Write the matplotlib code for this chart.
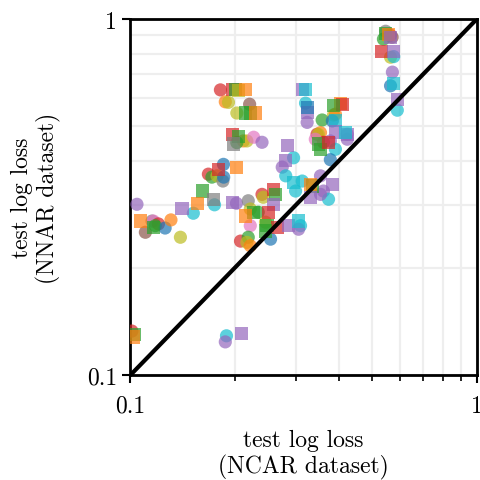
import matplotlib
matplotlib.use("Agg")
import matplotlib.pyplot as plt
import numpy as np
from matplotlib.ticker import FixedLocator, FixedFormatter, LogLocator, NullFormatter

# Computer Modern roman ships with matplotlib
plt.rcParams["font.family"] = "cmr10"
plt.rcParams["axes.formatter.use_mathtext"] = True

# tab10 colour index for each point
# circles: (NCAR loss, NNAR loss, colour)
circle_x = [0.564, 0.570, 0.546, 0.564, 0.576, 0.571, 0.564, 0.590, 0.538,
            0.182, 0.188, 0.192, 0.221, 0.203, 0.212, 0.217, 0.227, 0.240, 0.203,
            0.3205, 0.324, 0.358, 0.386, 0.391, 0.383, 0.423, 0.346, 0.354, 0.349,
            0.361, 0.342, 0.378, 0.391, 0.378, 0.423, 0.296, 0.2745, 0.281, 0.354,
            0.361, 0.3135, 0.300, 0.3735, 0.354,
            0.1857, 0.168, 0.172, 0.178, 0.185, 0.186,
            0.1045, 0.1105, 0.1155, 0.1166, 0.1205, 0.118, 0.126, 0.131, 0.1395,
            0.152, 0.175, 0.2025,
            0.219, 0.240, 0.242, 0.222, 0.234, 0.222, 0.2456, 0.310, 0.306, 0.254,
            0.208, 0.219, 0.217, 0.222,
            0.1895, 0.188, 0.101]
circle_y = [0.902, 0.890, 0.925, 0.782, 0.785, 0.710, 0.650, 0.555, 0.879,
            0.633, 0.586, 0.584, 0.577, 0.545, 0.455, 0.455, 0.466, 0.451, 0.450,
            0.581, 0.513, 0.521, 0.538, 0.541, 0.518, 0.460, 0.475, 0.480, 0.475,
            0.451, 0.460, 0.455, 0.431, 0.403, 0.475, 0.408, 0.384, 0.363, 0.363,
            0.329, 0.351, 0.329, 0.312, 0.322,
            0.391, 0.367, 0.360, 0.363, 0.351, 0.360,
            0.302, 0.252, 0.271, 0.271, 0.266, 0.263, 0.259, 0.273, 0.244,
            0.285, 0.301, 0.304,
            0.309, 0.322, 0.316, 0.293, 0.287, 0.263, 0.269, 0.263, 0.257, 0.241,
            0.238, 0.244, 0.236, 0.231,
            0.129, 0.124, 0.133]
circle_c = [3, 5, 7, 8, 9, 4, 0, 9, 2,
            3, 1, 8, 5, 8, 1, 8, 6, 4, 2,
            9, 4, 2, 8, 1, 0, 4, 3, 1, 8,
            3, 6, 4, 9, 0, 4, 9, 4, 9, 4,
            4, 9, 9, 9, 4,
            0, 3, 2, 8, 7, 0,
            4, 5, 7, 6, 3, 2, 0, 1, 8,
            9, 9, 4,
            7, 3, 8, 8, 2, 6, 8, 9, 4, 0,
            3, 2, 8, 1,
            9, 4, 3]

square_x = [0.546, 0.557, 0.564, 0.531, 0.576, 0.576, 0.590,
            0.197, 0.201, 0.205, 0.215, 0.215, 0.222, 0.230, 0.197, 0.205, 0.1985,
            0.203, 0.180, 0.162,
            0.3135, 0.3205, 0.324, 0.324, 0.404, 0.409, 0.386, 0.391, 0.391, 0.423,
            0.418, 0.349, 0.354, 0.3735, 0.284, 0.281, 0.296, 0.335, 0.331, 0.383,
            0.331,
            0.107, 0.1166, 0.141, 0.156, 0.1734, 0.197,
            0.259, 0.2625, 0.259, 0.227, 0.215, 0.2505, 0.248, 0.2655, 0.286, 0.306,
            0.2456,
            0.103, 0.102, 0.209]
square_y = [0.913, 0.908, 0.890, 0.813, 0.813, 0.661, 0.596,
            0.633, 0.633, 0.632, 0.633, 0.545, 0.545, 0.545, 0.475, 0.469, 0.446,
            0.383, 0.379, 0.329,
            0.636, 0.636, 0.547, 0.566, 0.581, 0.577, 0.571, 0.518, 0.482, 0.475,
            0.480, 0.446, 0.431, 0.451, 0.441, 0.400, 0.348, 0.340, 0.344, 0.344,
            0.316,
            0.271, 0.260, 0.294, 0.304, 0.312, 0.306,
            0.333, 0.322, 0.302, 0.287, 0.280, 0.287, 0.263, 0.260, 0.263, 0.271,
            0.254,
            0.130, 0.128, 0.131]
square_c = [2, 1, 4, 3, 4, 9, 4,
            3, 2, 8, 1, 2, 2, 1, 3, 2, 7,
            1, 3, 2,
            4, 9, 4, 0, 1, 3, 2, 9, 4, 4,
            9, 2, 2, 3, 4, 4, 9, 2, 1, 4,
            4,
            1, 2, 4, 1, 7, 4,
            3, 2, 4, 2, 1, 3, 2, 3, 4, 9,
            2,
            2, 1, 4]

tick_labels = ["0.1", "1"]

palette = plt.get_cmap("tab10").colors

fig = plt.figure(figsize=(4.81, 4.81), dpi=100)
ax = fig.add_axes([0.271, 0.218, 0.72, 0.740])

ax.scatter(circle_x, circle_y, s=90, marker="o", c=[palette[i] for i in circle_c],
           alpha=0.7, linewidths=0, zorder=3)
ax.scatter(square_x, square_y, s=90, marker="s", c=[palette[i] for i in square_c],
           alpha=0.7, linewidths=0, zorder=3)
ax.plot([0.1, 1], [0.1, 1], color="black", lw=3, zorder=4)

ax.set_xscale("log")
ax.set_yscale("log")
ax.set_xlim(0.1, 1)
ax.set_ylim(0.1, 1)

for axis in (ax.xaxis, ax.yaxis):
    axis.set_major_locator(FixedLocator([0.1, 1]))
    axis.set_major_formatter(FixedFormatter(tick_labels))
    axis.set_minor_locator(LogLocator(base=10, subs=np.arange(2, 10)))
    axis.set_minor_formatter(NullFormatter())

ax.grid(True, which="both", color="#eeeeee", lw=1.6, zorder=0)
ax.set_axisbelow(True)
ax.tick_params(which="major", length=6, width=1.5, labelsize=17)
ax.tick_params(axis="x", which="major", pad=8)
ax.tick_params(which="minor", length=4, width=1.2)
ax.tick_params(axis="y", which="minor", length=0)
for sp in ax.spines.values():
    sp.set_linewidth(2)

ax.set_xlabel("test log loss\n(NCAR dataset)", fontsize=17, labelpad=9,
              linespacing=1.15)
ax.set_ylabel("test log loss\n(NNAR dataset)", fontsize=17, labelpad=19,
              linespacing=1.15)

fig.savefig("out.png", dpi=100)
